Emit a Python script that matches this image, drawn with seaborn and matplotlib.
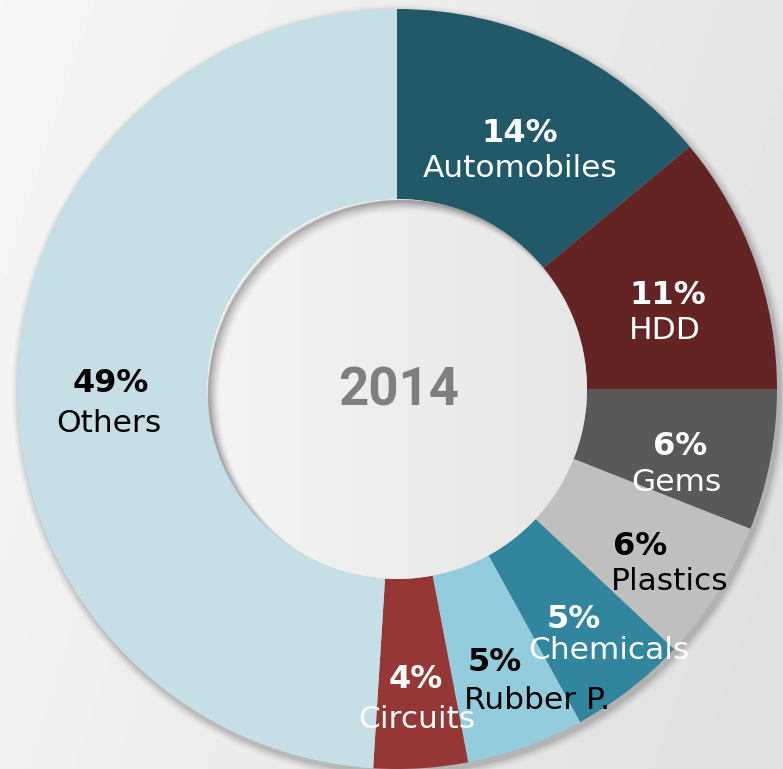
import numpy as np
import matplotlib
matplotlib.use("Agg")
import matplotlib.pyplot as plt
import seaborn as sns
from matplotlib.patches import Circle

# ---------------------------------------------------------
# DATA
# ---------------------------------------------------------
categories = ['Automobiles', 'HDD', 'Gems', 'Plastics', 'Chemicals', 'Rubber P.', 'Circuits', 'Others']
shares = [14, 11, 6, 6, 5, 5, 4, 49]
colors = ['#215968', '#632423', '#595959', '#bfbfbf', '#31859c', '#93cddd', '#953735', '#c6dee6']
label_colors = ['white', 'white', 'white', 'black', 'white', 'black', 'white', 'black']
center_label = '2014'

# layout tweaks for the category names (px, relative to the % label)
name_dx = [0, -3, -3, 29, 35, 42, 1, -2]
name_dy = [35, 35, 36, 35, 31, 38, 40, 40]

sns.set_theme(style="white")
plt.rcParams['font.family'] = ['DejaVu Sans']

W, H = 783, 769
fig = plt.figure(figsize=(W / 100, H / 100), dpi=100)
ax = fig.add_axes([0, 0, 1, 1])

# background gradient (light top-left, greyer right)
yy, xx = np.mgrid[0:1:200j, 0:1:200j]
bg = 0.965 - 0.085 * np.clip(0.8 * xx + 0.25 * yy, 0, 1)
ax.imshow(bg, cmap='gray', vmin=0, vmax=1, extent=[0, W, 0, H], origin='upper',
          zorder=0, aspect='auto')

cx, cy = 397, 380
R_out, R_in = 380, 190

# soft drop shadow behind ring
for i, a in enumerate(np.linspace(0.06, 0.015, 6)):
    ax.add_patch(Circle((cx + 3, cy - 4), R_out + 1 + i * 1.5, color='black', alpha=a, lw=0, zorder=1))

wedges, _ = ax.pie(shares, colors=colors, startangle=90, counterclock=False,
                   radius=R_out, center=(cx, cy), frame=True,
                   wedgeprops=dict(width=R_out - R_in, linewidth=0))
for w in wedges:
    w.set_zorder(2)

# inner hole with gradient fill
hole = Circle((cx, cy), R_in, transform=ax.transData, facecolor='none', lw=0)
ax.add_patch(hole)
yy2, xx2 = np.mgrid[0:1:100j, 0:1:100j]
hole_grad = 0.955 - 0.055 * xx2
im = ax.imshow(hole_grad, cmap='gray', vmin=0, vmax=1,
               extent=[cx - R_in, cx + R_in, cy - R_in, cy + R_in], zorder=3, aspect='auto')
im.set_clip_path(hole)

# inner shadow cast by the ring onto the hole (top-left)
for i, a in enumerate(np.linspace(0.10, 0.02, 6)):
    sh = Circle((cx + 4 + i, cy - 4 - i), R_in + 2, fill=False, edgecolor='black',
                lw=2 + i * 1.2, alpha=a, zorder=4)
    ax.add_patch(sh)
    sh.set_clip_path(hole)

ax.set_xlim(0, W)
ax.set_ylim(0, H)
ax.set_aspect('equal')
ax.axis('off')

# labels placed from wedge mid-angles
total = sum(shares)
cum = 0
for name, val, tc, ndx, ndy in zip(categories, shares, label_colors, name_dx, name_dy):
    mid = (cum + val / 2) / total * 360
    cum += val
    theta = np.deg2rad(90 - mid)
    r = 0.755 * R_out
    lx = cx + r * np.cos(theta) + 1
    ly = cy + r * np.sin(theta) - 4
    ax.text(lx, ly, f'{val}%', ha='center', va='center', fontsize=23,
            fontweight='bold', color=tc, zorder=6)
    ax.text(lx + ndx, ly - ndy, name, ha='center', va='center', fontsize=22.5,
            color=tc, zorder=6)

ax.text(cx + 2, cy - 2, center_label, ha='center', va='center', fontsize=38,
        fontweight='bold', color='#7f7f7f', family=['Roboto', 'DejaVu Sans'], zorder=6)

plt.savefig('out.png', dpi=100)
